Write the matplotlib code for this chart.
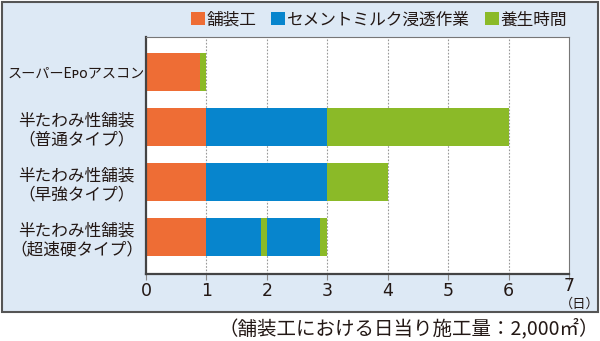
import matplotlib.pyplot as plt
from matplotlib.patches import Rectangle
from matplotlib.transforms import ScaledTranslation

plt.rcParams['font.family'] = ['Noto Sans CJK JP', 'DejaVu Sans']

# 工法ごとの日数（日）
工法 = ["スーパーEᴘᴏアスコン", "半たわみ性舗装\n（普通タイプ）",
       "半たわみ性舗装\n（早強タイプ）", "半たわみ性舗装\n（超速硬タイプ）"]
舗装工 = [0.9, 1.0, 1.0, 1.0]
浸透作業1 = [0.0, 2.0, 2.0, 0.9]
養生1 = [0.1, 3.0, 1.0, 0.1]
浸透作業2 = [0.0, 0.0, 0.0, 0.88]
養生2 = [0.0, 0.0, 0.0, 0.12]
x_ticks = [0, 1, 2, 3, 4, 5, 6, 7]

c_orange = "#ee6d35"
c_blue = "#0785cd"
c_green = "#8bba28"
c_text = "#231815"

fig = plt.figure(figsize=(6.0, 3.41), dpi=100)

# 背景パネル
fig.patches.append(Rectangle((2 / 600, 1 - 312 / 341), 596 / 600, 310 / 341,
                             transform=fig.transFigure, facecolor="#dde9f5",
                             edgecolor="#555555", linewidth=1.5, zorder=-5))

ax = fig.add_axes([146 / 600, 1 - 274 / 341, 423 / 600, 237 / 341])
ax.set_zorder(2)
ax.set_facecolor("white")

y = list(range(len(工法)))
segmentos = [(舗装工, c_orange, "舗装工"), (浸透作業1, c_blue, "セメントミルク浸透作業"),
             (養生1, c_green, "養生時間"), (浸透作業2, c_blue, None), (養生2, c_green, None)]
left = [0.0] * len(工法)
handles = []
for vals, color, label in segmentos:
    b = ax.barh(y, vals, left=left, height=0.69, color=color, zorder=2)
    if label:
        handles.append((b, label))
    left = [l + v for l, v in zip(left, vals)]

ax.set_xlim(0, 7)
ax.set_ylim(3.67, -0.64)
ax.set_xticks(x_ticks)
ax.set_xticklabels([str(t) for t in x_ticks], fontsize=12.5, color=c_text, family="DejaVu Sans")
ax.set_yticks(y)
ax.set_yticklabels(工法, fontsize=12, color=c_text, ha="center", multialignment="center",
                   linespacing=1.2)
# カタカナだけの行は幅を合わせて少し小さく
ax.get_yticklabels()[0].set_fontsize(10.2)
ax.tick_params(axis="y", length=0, pad=50)
ax.tick_params(axis="x", length=4, color="#888888", pad=2)
for t in x_ticks[1:-1]:
    ax.axvline(t, color="#999999", linestyle=(0, (1.5, 1.5)), linewidth=0.8, zorder=1)

ax.spines["left"].set_color("#444444")
ax.spines["bottom"].set_color("#444444")
ax.spines["left"].set_linewidth(1.6)
ax.spines["bottom"].set_linewidth(1.6)
ax.spines["top"].set_color("#777777")
ax.spines["right"].set_color("#777777")
ax.spines["top"].set_linewidth(0.8)
ax.spines["right"].set_linewidth(0.8)

fig.legend([h for h, _ in handles], [l for _, l in handles], loc="center right",
           bbox_to_anchor=(574 / 600, 1 - 20 / 341), ncol=3, frameon=False,
           fontsize=12, handlelength=0.85, handleheight=0.85, handletextpad=0.1,
           columnspacing=0.9, borderaxespad=0, labelcolor=c_text)

# 「7」は（日）の上に少し持ち上げる
lbl7 = ax.get_xticklabels()[-1]
lbl7.set_transform(lbl7.get_transform() + ScaledTranslation(0, 4 / 72, fig.dpi_scale_trans))

fig.text(580 / 600, 1 - 304 / 341, "（日）", fontsize=9.5, color=c_text,
         ha="center", va="center")
fig.text(599 / 600, 1 - 329 / 341, "（舗装工における日当り施工量：2,000㎡）",
         fontsize=14, color=c_text, ha="right", va="center")

fig.savefig("out.png", dpi=100)
